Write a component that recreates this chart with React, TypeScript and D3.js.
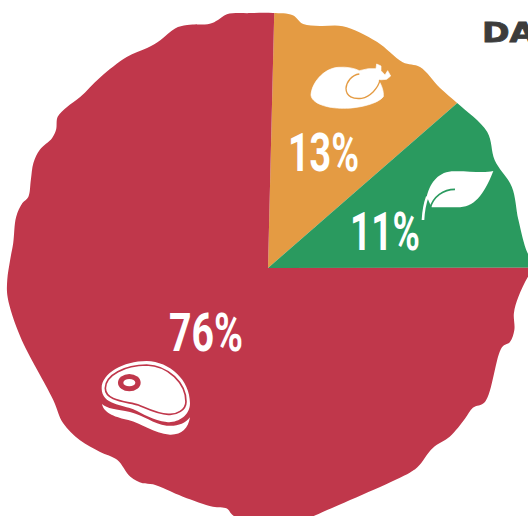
import React from "react";
import * as d3 from "d3";

// Slices, clockwise from the top
const categories = ["Poultry", "Plant", "Red meat"];
const shares = [13.2, 11.4, 75.4];
const labels = ["13%", "11%", "76%"];
const colours = ["#E49B43", "#2A9A5F", "#C0374B"];
const firstSliceAngle = 1.4; // degrees

// Hand-torn edge of the pie
const edgeAngles = [1.1, 5.6, 8.2, 12.1, 17.2, 25.7, 33.2, 37.1, 43.7, 48.9, 58.2, 64.6, 71.6, 79.1, 86.7, 89.4, 92, 96.6, 100.4, 104.1, 107, 108.7, 121.7, 124.3, 127.3, 132.9, 137.5, 143, 145.3, 169.3, 178.5, 188, 189.7, 193, 200.4, 208, 210.2, 213.4, 218.2, 222.4, 227.5, 232.9, 238.5, 254.5, 263.6, 267.4, 271.8, 275.6, 281.4, 284.8, 286.5, 290.4, 294.1, 297.4, 301, 303.1, 305.7, 308.7, 312.3, 318.7, 326.2, 331.2, 334.7, 338.8, 341.6, 346.6, 348.6, 350.8, 356];
const edgeRadii = [255, 254, 246.5, 247.5, 253, 251, 246, 252, 249, 251, 258, 251, 257, 255, 260, 268, 260, 252, 250, 254, 253, 247, 255, 248, 248, 248, 244, 249, 249, 252, 266, 250, 244, 245, 244, 245, 249, 250, 244, 249, 255, 257, 252, 257, 262, 261, 258, 256, 257, 254, 250, 253, 257, 257, 252, 253, 259, 257.5, 254, 254, 254, 251, 252, 257, 256, 251, 253, 257, 255.5];

const title = "DATA";
const cx = 268;
const cy = 268;
const rad = (d: number) => (d * Math.PI) / 180;

export default function App() {
  const pie = d3
    .pie<number>()
    .sort(null)
    .startAngle(rad(firstSliceAngle))
    .endAngle(rad(firstSliceAngle + 360));
  const arc = d3
    .arc<d3.PieArcDatum<number>>()
    .innerRadius(0)
    .outerRadius(320);
  const edge = d3
    .lineRadial<number>()
    .angle((_, i) => rad(edgeAngles[i]))
    .radius((d) => d)
    .curve(d3.curveCatmullRomClosed.alpha(0.5));
  const arcs = pie(shares);
  const red = colours[2];
  const orange = colours[0];
  const green = colours[1];

  return (
    <svg
      width={528}
      height={516}
      viewBox="0 0 528 516"
      style={{ position: "absolute", left: 0, top: 0, background: "#fff" }}
    >
      <defs>
        <clipPath id="edge">
          <path d={edge(edgeRadii) ?? ""} />
        </clipPath>
      </defs>
      <g transform={`translate(${cx},${cy})`} clipPath="url(#edge)">
        {arcs.map((a, i) => (
          <path key={categories[i]} d={arc(a) ?? ""} fill={colours[i]} />
        ))}
      </g>

      {/* chicken */}
      <g transform="translate(270,0) scale(0.3333)">
        <path
          fill="#fff"
          stroke="#fff"
          strokeWidth={2}
          d="M123,285 C125,250 160,205 205,202 C230,200 252,204 268,212 L295,206 L318,206 L320,192 L333,198 L333,212 L345,225 L353,212 L362,228 L350,238 L325,240 C335,255 342,275 340,290 C325,310 270,325 220,325 C170,325 125,310 123,285 Z"
        />
        <path
          fill="none"
          stroke={orange}
          strokeWidth={4}
          d="M268,222 C245,225 230,245 228,265 C228,290 250,298 275,295 C300,290 325,265 330,240"
        />
      </g>

      {/* leaf */}
      <g transform="translate(270,0) scale(0.3333)">
        <path
          fill="#fff"
          d="M670,513 C640,520 590,512 545,514 C500,518 478,555 470,592 C476,600 478,610 485,622 L555,622 C610,625 640,590 670,513 Z"
        />
        <path fill="none" stroke="#fff" strokeWidth={8} d="M459,660 C460,640 463,615 472,590" />
        <path fill="none" stroke={green} strokeWidth={5} d="M555,568 C520,568 490,590 480,625" />
      </g>

      {/* steak */}
      <g transform="translate(0,260) scale(0.3333)">
        <path
          fill="#fff"
          d="M305,385 C305,340 370,303 440,303 C510,305 570,360 570,430 C570,470 530,490 500,486 C460,482 430,462 400,448 C370,435 305,435 305,385 Z"
        />
        <path
          fill="none"
          stroke={red}
          strokeWidth={5}
          d="M316,385 C316,345 375,315 440,315 C505,317 558,370 558,425 C558,450 530,465 505,463 C470,462 440,445 415,435 C385,425 316,425 316,385 Z"
        />
        <ellipse cx={388} cy={368} rx={34} ry={26} fill={red} />
        <ellipse cx={388} cy={368} rx={18} ry={11} fill="#fff" />
        <path
          fill="#fff"
          d="M306,432 C312,462 350,472 385,480 C425,490 460,520 510,524 C545,525 565,505 570,472 C555,492 530,500 500,497 C460,492 430,465 390,456 C350,448 320,446 306,432 Z"
        />
      </g>

      {/* percentages */}
      {[
        { x: 288, y: 171, w: 71 },
        { x: 350, y: 250, w: 70 },
        { x: 169, y: 351, w: 74 },
      ].map((p, i) => (
        <text
          key={labels[i]}
          x={p.x}
          y={p.y}
          textLength={p.w}
          lengthAdjust="spacingAndGlyphs"
          fontFamily="Roboto, sans-serif"
          fontWeight={700}
          fontSize={54}
          fill="#fff"
        >
          {labels[i]}
        </text>
      ))}

      <text
        transform="translate(482,42) scale(1.28,1)"
        fontFamily="'DejaVu Sans', sans-serif"
        fontWeight={700}
        fontSize={26}
        fill="#3C3C3C"
        stroke="#3C3C3C"
        strokeWidth={0.8}
      >
        {title}
      </text>
    </svg>
  );
}
